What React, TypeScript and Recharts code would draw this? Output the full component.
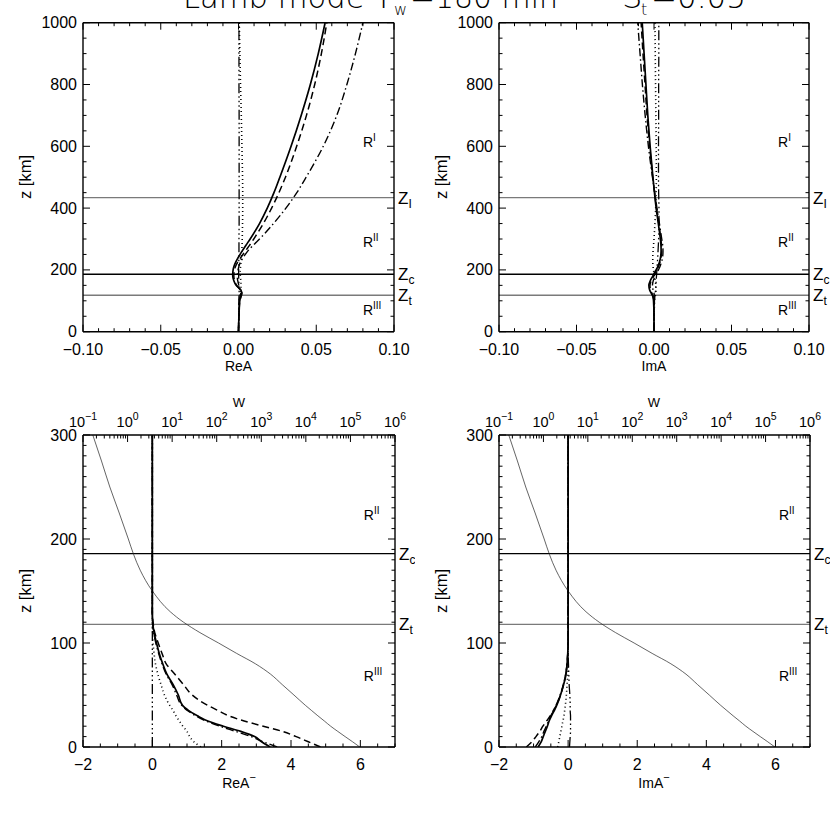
import React from 'react';
import { LineChart, Line, XAxis, YAxis, ReferenceLine, ReferenceDot } from 'recharts';

// heights for the upper panels (km)
const zUpper = [0, 50, 100, 115, 125, 135, 150, 165, 180, 195, 210, 225, 240, 260, 280, 300, 350, 400, 450, 500, 600, 700, 800, 900, 1000];

// ReA
const reSolid = [0, 0.0003, 0.0008, 0.0015, 0.002, 0.0015, -0.0015, -0.003, -0.0037, -0.0036, -0.003, -0.0018, -0.0002, 0.0022, 0.0048, 0.0075, 0.0135, 0.0185, 0.0228, 0.0266, 0.0338, 0.0403, 0.0462, 0.0513, 0.0557];
const reDashed = [0, 0.0003, 0.0008, 0.0018, 0.0022, 0.0012, -0.0012, -0.0025, -0.003, -0.0028, -0.002, -0.0005, 0.0015, 0.0042, 0.0072, 0.0098, 0.016, 0.0213, 0.026, 0.0302, 0.0374, 0.0437, 0.049, 0.0533, 0.0568];
const reDashDot = [0, 0.0002, 0.0006, 0.001, 0.0015, 0.001, 0.0002, -0.0005, -0.0008, -0.0005, 0.0002, 0.0012, 0.003, 0.0058, 0.0095, 0.0135, 0.0225, 0.0305, 0.0375, 0.0435, 0.0545, 0.0632, 0.0697, 0.0752, 0.08];
const reDotted = [0, 0.0002, 0.0005, 0.0008, 0.0012, 0.0015, 0.0016, 0.0015, 0.0012, 0.0011, 0.0013, 0.0016, 0.0019, 0.0021, 0.0023, 0.0024, 0.0026, 0.0027, 0.0027, 0.0026, 0.0022, 0.0018, 0.0013, 0.0009, 0.0005];
const reLong = [0, 0.0001, 0.0002, 0.0003, 0.0004, 0.0004, 0.0003, 0.0002, 0.0001, 0.0001, 0.0001, 0.0002, 0.0002, 0.0003, 0.0003, 0.0003, 0.0004, 0.0004, 0.0004, 0.0004, 0.0004, 0.0004, 0.0003, 0.0003, 0.0003];

// ImA
const imSolid = [0, 0, -0.0003, -0.0008, -0.0018, -0.0028, -0.0033, -0.0024, -0.0008, 0.0008, 0.0024, 0.0035, 0.0042, 0.0046, 0.0045, 0.0041, 0.0028, 0.0014, 0.0003, -0.0007, -0.0025, -0.004, -0.0052, -0.0064, -0.0076];
const imDashed = [0, 0, -0.0002, -0.0006, -0.0014, -0.0022, -0.0026, -0.0018, -0.0002, 0.0014, 0.0028, 0.0038, 0.0045, 0.0049, 0.0048, 0.0044, 0.0031, 0.0016, 0.0004, -0.0008, -0.0028, -0.0045, -0.0058, -0.0071, -0.0083];
const imDashDot = [0, 0, 0, 0.0002, 0, -0.0006, -0.001, -0.0005, 0.0008, 0.0024, 0.0038, 0.0048, 0.0055, 0.0058, 0.0056, 0.005, 0.0035, 0.0019, 0.0005, -0.001, -0.0036, -0.0057, -0.0075, -0.009, -0.0105];
const imDotted = [0, 0.0001, 0.0004, 0.0008, 0.0011, 0.0013, 0.0012, 0.0008, 0.0003, -0.0002, -0.0006, -0.0008, -0.0008, -0.0006, -0.0003, 0, 0.0006, 0.0011, 0.0014, 0.0015, 0.0014, 0.0012, 0.001, 0.0008, 0.0006];
const imLong = [0, 0.0001, 0.0003, 0.0006, 0.0008, 0.001, 0.0012, 0.0014, 0.0016, 0.0018, 0.002, 0.0022, 0.0024, 0.0026, 0.0028, 0.003, 0.0032, 0.0032, 0.003, 0.0029, 0.0029, 0.003, 0.003, 0.0031, 0.0031];

// heights for the lower panels (km)
const zLower = [0, 5, 10, 15, 20, 25, 30, 35, 40, 50, 60, 70, 80, 90, 100, 110, 120, 130, 150, 170, 185, 200, 225, 250, 275, 300];

// W profile (top log axis)
const wProfile = [162000, 112000, 76000, 52000, 36000, 26000, 18600, 13500, 9800, 5400, 2950, 1620, 740, 280, 110, 42, 18, 9.1, 3.6, 1.92, 1.37, 1.04, 0.65, 0.4, 0.26, 0.166];

// ReA-
const rmSolid = [3.4, 3.15, 2.95, 2.55, 2.05, 1.6, 1.3, 1.05, 0.87, 0.75, 0.6, 0.42, 0.3, 0.2, 0.12, 0.05, 0.01, 0, 0, 0, 0, 0, 0, 0, 0, 0];
const rmDashed = [4.85, 4.5, 4.15, 3.75, 3.2, 2.65, 2.2, 1.9, 1.6, 1.15, 0.9, 0.65, 0.4, 0.28, 0.17, 0.07, 0.02, 0, 0, 0, 0, 0, 0, 0, 0, 0];
const rmDashDot = [3.6, 3.2, 2.85, 2.4, 1.95, 1.55, 1.25, 1.02, 0.85, 0.7, 0.57, 0.4, 0.28, 0.18, 0.1, 0.04, 0.01, 0, 0, 0, 0, 0, 0, 0, 0, 0];
const rmDotted = [1.4, 1.2, 1.08, 1.0, 0.88, 0.78, 0.68, 0.6, 0.5, 0.35, 0.25, 0.16, 0.09, 0.05, 0.02, 0.01, 0, 0, 0, 0, 0, 0, 0, 0, 0, 0];
const rmLong = [0, 0, 0, 0, 0, 0, 0, 0, 0, 0, 0, 0, 0, 0, 0, 0, 0, 0, 0, 0, 0, 0, 0, 0, 0, 0];

// ImA-
const imMSolid = [-0.87, -0.78, -0.72, -0.66, -0.6, -0.55, -0.48, -0.4, -0.33, -0.22, -0.13, -0.06, -0.03, -0.01, 0, 0, 0, 0, 0, 0, 0, 0, 0, 0, 0, 0];
const imMDashed = [-1.21, -1.05, -0.93, -0.82, -0.73, -0.62, -0.52, -0.43, -0.34, -0.22, -0.13, -0.07, -0.03, -0.01, 0, 0, 0, 0, 0, 0, 0, 0, 0, 0, 0, 0];
const imMDashDot = [-0.95, -0.85, -0.76, -0.7, -0.63, -0.57, -0.5, -0.42, -0.35, -0.23, -0.14, -0.07, -0.03, -0.01, 0, 0, 0, 0, 0, 0, 0, 0, 0, 0, 0, 0];
const imMDotted = [-0.3, -0.27, -0.24, -0.21, -0.18, -0.15, -0.12, -0.1, -0.08, -0.05, -0.03, -0.01, 0, 0, 0, 0, 0, 0, 0, 0, 0, 0, 0, 0, 0, 0];
const imMLong = [0.04, 0.05, 0.06, 0.07, 0.07, 0.07, 0.07, 0.06, 0.06, 0.05, 0.03, 0.02, 0.01, 0, 0, 0, 0, 0, 0, 0, 0, 0, 0, 0, 0, 0];

// reference heights
const Z_I = 434;
const Z_C = 186;
const Z_T = 118;

const upperZLines = [
  { z: Z_I, sub: 'I', color: '#7a7a7a' },
  { z: Z_C, sub: 'c', color: '#000' },
  { z: Z_T, sub: 't', color: '#7a7a7a' },
];
const lowerZLines = [
  { z: Z_C, sub: 'c', color: '#000' },
  { z: Z_T, sub: 't', color: '#7a7a7a' },
];
const upperRegions = [
  { x: 0.08, z: 598, sup: 'I' },
  { x: 0.08, z: 274, sup: 'II' },
  { x: 0.08, z: 54, sup: 'III' },
];
const lowerRegions = [
  { x: 6.1, z: 218, sup: 'II' },
  { x: 6.1, z: 63, sup: 'III' },
];

// ticks
const upperXTicks = Array.from({ length: 21 }, (_, i) => +(-0.1 + i * 0.01).toFixed(3));
const upperYTicks = Array.from({ length: 21 }, (_, i) => i * 50);
const lowerXTicks = Array.from({ length: 19 }, (_, i) => -2 + i * 0.5);
const lowerYTicks = Array.from({ length: 31 }, (_, i) => i * 10);
const logTicks: number[] = [];
for (let e = -1; e < 6; e++) for (let m = 1; m < 10; m++) logTicks.push(m * Math.pow(10, e));
logTicks.push(1e6);

const toRows = (z: number[], s: number[], d: number[], dd: number[], o: number[], l: number[], w?: number[]) =>
  z.map((zz, i) => ({ z: zz, s: s[i], d: d[i], dd: dd[i], o: o[i], l: l[i], w: w ? w[i] : undefined }));

const reRows = toRows(zUpper, reSolid, reDashed, reDashDot, reDotted, reLong);
const imRows = toRows(zUpper, imSolid, imDashed, imDashDot, imDotted, imLong);
const rmRows = toRows(zLower, rmSolid, rmDashed, rmDashDot, rmDotted, rmLong, wProfile);
const imMRows = toRows(zLower, imMSolid, imMDashed, imMDashDot, imMDotted, imMLong, wProfile);

const SERIES = [
  { key: 'l', dash: '10 3 1.5 3 1.5 3 1.5 3', width: 1.3 },
  { key: 'o', dash: '1 3', width: 1.6 },
  { key: 'dd', dash: '8 3 1.5 3', width: 1.4 },
  { key: 'd', dash: '7 4', width: 1.5 },
  { key: 's', dash: undefined, width: 1.7 },
];

const FONT = "'Liberation Sans', Arial, Helvetica, sans-serif";
const AXIS = { stroke: '#000', strokeWidth: 1.4 };

const onStep = (v: number, step: number) => Math.abs(v / step - Math.round(v / step)) < 1e-6;
const minus = (s: string) => s.replace('-', '\u2212');
const isDecade = (v: number) => Math.abs(Math.log10(v) - Math.round(Math.log10(v))) < 1e-6;

type Side = 'left' | 'right' | 'top' | 'bottom';

const makeTick = (side: Side, isMajor: (v: number) => boolean, fmt?: (v: number) => React.ReactNode) => (p: any) => {
  const { x, y, payload } = p;
  const v = Number(payload.value);
  const major = isMajor(v);
  const len = major ? 7 : 3.5;
  let c = [x, y, x, y - len];
  if (side === 'left') c = [x, y, x + len, y];
  if (side === 'right') c = [x, y, x - len, y];
  if (side === 'top') c = [x, y, x, y + len];
  let label: React.ReactNode = null;
  if (fmt && major) {
    if (side === 'left')
      label = <text x={x - 6} y={y + 5.5} textAnchor="end" fontFamily={FONT} fontSize={16}>{fmt(v)}</text>;
    if (side === 'bottom')
      label = <text x={x} y={y + 23} textAnchor="middle" fontFamily={FONT} fontSize={16}>{fmt(v)}</text>;
    if (side === 'top')
      label = <text x={x} y={y - 8} textAnchor="middle" fontFamily={FONT} fontSize={14.5}>{fmt(v)}</text>;
  }
  return (
    <g>
      <line x1={c[0]} y1={c[1]} x2={c[2]} y2={c[3]} stroke="#000" strokeWidth={1} />
      {label}
    </g>
  );
};

const logLabel = (v: number) => (
  <>
    10<tspan dy={-7} fontSize={10.5}>{minus(String(Math.round(Math.log10(v))))}</tspan>
  </>
);

const zLabel = (sub: string) => (props: any) => {
  const vb = props.viewBox;
  return (
    <text x={vb.x + vb.width + 4} y={vb.y + 6} fontFamily={FONT} fontSize={17}>
      Z<tspan dy={4} fontSize={12}>{sub}</tspan>
    </text>
  );
};

const regionShape = (sup: string) => (p: any) => (
  <text x={p.cx} y={p.cy} fontFamily={FONT} fontSize={14}>
    R<tspan dy={-6} fontSize={10}>{sup}</tspan>
  </text>
);

type PanelProps = {
  left: number;
  top: number;
  width: number;
  height: number;
  plot: { top: number; right: number; bottom: number; left: number };
  rows: any[];
  lower: boolean;
};

function Panel({ left, top, width, height, plot, rows, lower }: PanelProps) {
  const xDomain: [number, number] = lower ? [-2, 7] : [-0.1, 0.1];
  const yDomain: [number, number] = lower ? [0, 300] : [0, 1000];
  const xTicks = lower ? lowerXTicks : upperXTicks;
  const yTicks = lower ? lowerYTicks : upperYTicks;
  const xMajor = (v: number) => (lower ? onStep(v, 2) : onStep(v, 0.05));
  const yMajor = (v: number) => (lower ? onStep(v, 100) : onStep(v, 200));
  const xFmt = (v: number) => (lower ? minus(String(v)) : minus(v.toFixed(2)));
  const zLines = lower ? lowerZLines : upperZLines;
  const regions = lower ? lowerRegions : upperRegions;
  // every axis is 1px thick, so the margins are the plot edges minus 1
  const margin = { top: plot.top - 1, right: plot.right - 1, bottom: plot.bottom - 1, left: plot.left - 1 };
  return (
    <div style={{ position: 'absolute', left, top }}>
      <LineChart layout="vertical" width={width} height={height} data={rows} margin={margin}>
        <XAxis
          xAxisId="b"
          orientation="bottom"
          type="number"
          domain={xDomain}
          allowDataOverflow
          ticks={xTicks}
          interval={0}
          height={1}
          tickSize={0}
          tickMargin={0}
          tickLine={false}
          axisLine={AXIS}
          tick={makeTick('bottom', xMajor, xFmt)}
        />
        {lower ? (
          <XAxis
            xAxisId="t"
            orientation="top"
            type="number"
            scale="log"
            domain={[0.1, 1e6]}
            allowDataOverflow
            ticks={logTicks}
            interval={0}
            height={1}
            tickSize={0}
            tickMargin={0}
            tickLine={false}
            axisLine={AXIS}
            tick={makeTick('top', isDecade, logLabel)}
          />
        ) : (
          <XAxis
            xAxisId="t"
            orientation="top"
            type="number"
            domain={xDomain}
            allowDataOverflow
            ticks={xTicks}
            interval={0}
            height={1}
            tickSize={0}
            tickMargin={0}
            tickLine={false}
            axisLine={AXIS}
            tick={makeTick('top', xMajor)}
          />
        )}
        <YAxis
          yAxisId="l"
          orientation="left"
          type="number"
          dataKey="z"
          domain={yDomain}
          reversed
          allowDataOverflow
          ticks={yTicks}
          interval={0}
          width={1}
          tickSize={0}
          tickMargin={0}
          tickLine={false}
          axisLine={AXIS}
          tick={makeTick('left', yMajor, (v) => String(v))}
        />
        <YAxis
          yAxisId="r"
          orientation="right"
          type="number"
          dataKey="z"
          domain={yDomain}
          reversed
          allowDataOverflow
          ticks={yTicks}
          interval={0}
          width={1}
          tickSize={0}
          tickMargin={0}
          tickLine={false}
          axisLine={AXIS}
          tick={makeTick('right', yMajor)}
        />
        {zLines.map((zl) => (
          <ReferenceLine
            key={zl.sub}
            y={zl.z}
            xAxisId="b"
            yAxisId="l"
            stroke={zl.color}
            strokeWidth={1.3}
            label={{ content: zLabel(zl.sub) }}
          />
        ))}
        {lower && (
          <Line
            dataKey="w"
            xAxisId="t"
            yAxisId="l"
            type="monotone"
            stroke="#222"
            strokeWidth={0.7}
            dot={false}
            activeDot={false}
            isAnimationActive={false}
          />
        )}
        {SERIES.map((s) => (
          <Line
            key={s.key}
            dataKey={s.key}
            xAxisId="b"
            yAxisId="l"
            type="monotone"
            stroke="#000"
            strokeWidth={s.width}
            strokeDasharray={s.dash}
            dot={false}
            activeDot={false}
            isAnimationActive={false}
          />
        ))}
        {regions.map((r) => (
          <ReferenceDot
            key={r.sup}
            x={r.x}
            y={r.z}
            xAxisId="b"
            yAxisId="l"
            r={0}
            shape={regionShape(r.sup)}
          />
        ))}
      </LineChart>
    </div>
  );
}

const TITLE = "'DejaVu Sans', sans-serif";

export default function App() {
  return (
    <div style={{ position: 'absolute', left: 0, top: 0, width: 830, height: 830, background: '#fff', overflow: 'hidden' }}>
      <Panel left={0} top={0} width={415} height={395} plot={{ top: 22.7, right: 21, bottom: 63.3, left: 83 }} rows={reRows} lower={false} />
      <Panel left={415} top={0} width={415} height={395} plot={{ top: 22.7, right: 21, bottom: 63.3, left: 84 }} rows={imRows} lower={false} />
      <Panel left={0} top={395} width={415} height={435} plot={{ top: 40, right: 20, bottom: 83, left: 83 }} rows={rmRows} lower />
      <Panel left={415} top={395} width={415} height={435} plot={{ top: 40, right: 20, bottom: 83, left: 84 }} rows={imMRows} lower />
      <svg width={830} height={830} style={{ position: 'absolute', left: 0, top: 0, pointerEvents: 'none' }}>
        <g fontFamily={TITLE} fontWeight={200} fill="#000">
          <text x={183} y={8} fontSize={32} textLength={210} lengthAdjust="spacingAndGlyphs">Lamb mode T</text>
          <text x={394} y={15} fontSize={16}>w</text>
          <text x={410} y={8} fontSize={32} textLength={148} lengthAdjust="spacingAndGlyphs">=180 min</text>
          <text x={622} y={8} fontSize={32}>S</text>
          <text x={641} y={15} fontSize={16}>t</text>
          <text x={651} y={8} fontSize={32} textLength={95} lengthAdjust="spacingAndGlyphs">=0.05</text>
        </g>
        <g fontFamily={FONT} fill="#000">
          <text x={238.5} y={371} fontSize={14} textAnchor="middle">ReA</text>
          <text x={654} y={371} fontSize={14} textAnchor="middle">ImA</text>
          <text x={239} y={788} fontSize={14} textAnchor="middle">
            ReA<tspan dy={-7} fontSize={11}>{'\u2212'}</tspan>
          </text>
          <text x={654} y={788} fontSize={14} textAnchor="middle">
            ImA<tspan dy={-7} fontSize={11}>{'\u2212'}</tspan>
          </text>
          <text x={239} y={407} fontSize={13} textAnchor="middle">W</text>
          <text x={654} y={407} fontSize={13} textAnchor="middle">W</text>
          <text x={31} y={177} fontSize={16.5} textAnchor="middle" transform="rotate(-90 31 177)">z [km]</text>
          <text x={447} y={177} fontSize={16.5} textAnchor="middle" transform="rotate(-90 447 177)">z [km]</text>
          <text x={31} y={591} fontSize={16.5} textAnchor="middle" transform="rotate(-90 31 591)">z [km]</text>
          <text x={447} y={591} fontSize={16.5} textAnchor="middle" transform="rotate(-90 447 591)">z [km]</text>
        </g>
      </svg>
    </div>
  );
}
